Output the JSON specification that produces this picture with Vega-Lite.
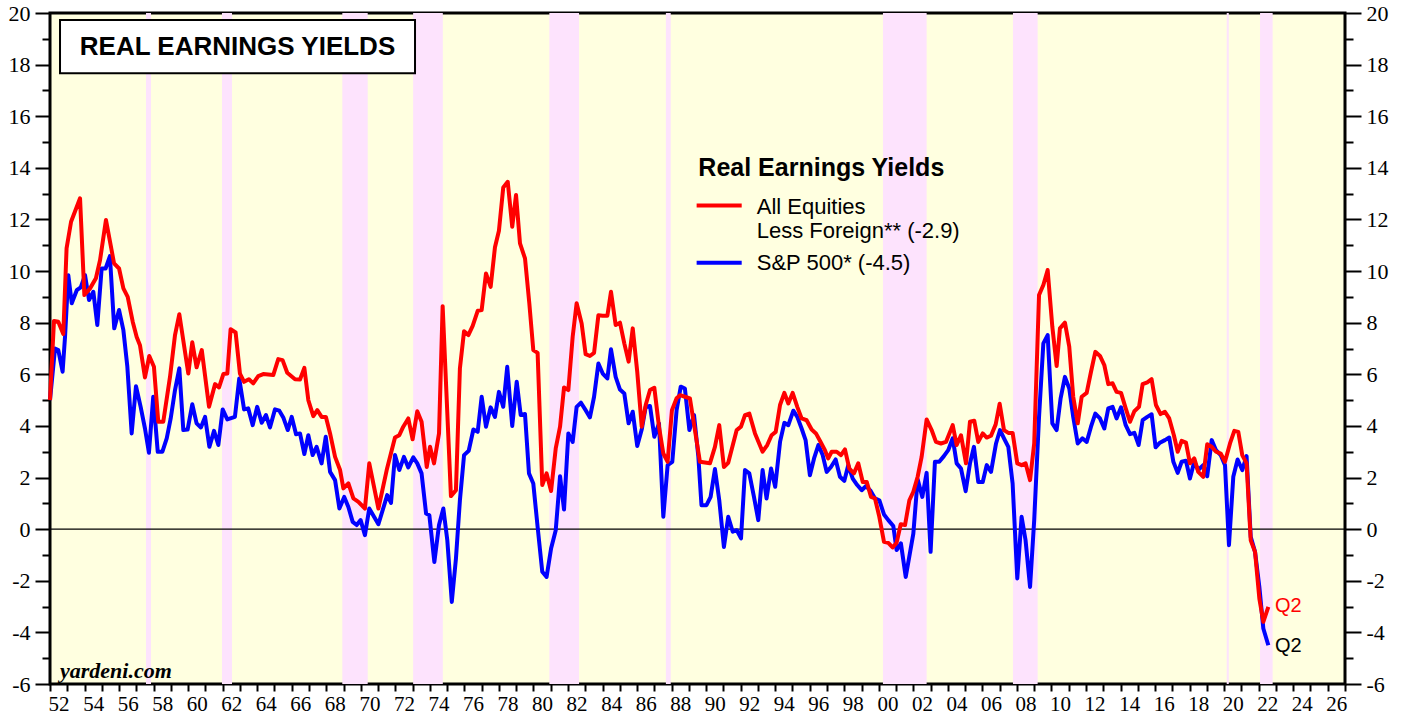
{
  "$schema": "https://vega.github.io/schema/vega-lite/v6.json",
  "width": 1295,
  "height": 671,
  "autosize": "none",
  "padding": {"left": 50, "top": 13, "right": 60, "bottom": 33},
  "background": "white",
  "config": {"view": {"fill": "#ffffe0", "stroke": "black", "strokeWidth": 3}},
  "datasets": {
    "recessions": [
      {"x": 1957.56, "x2": 1957.85}, {"x": 1961.96, "x2": 1962.54}, {"x": 1968.93, "x2": 1970.4},
      {"x": 1973.03, "x2": 1974.75}, {"x": 1980.92, "x2": 1982.64}, {"x": 1987.67, "x2": 1987.95},
      {"x": 2000.24, "x2": 2002.77}, {"x": 2007.77, "x2": 2009.2}, {"x": 2020.15, "x2": 2020.27},
      {"x": 2022.08, "x2": 2022.81}
    ],
    "sp500": [
      {"x":1952.0,"y":5.0},{"x":1952.29,"y":7.0},{"x":1952.48,"y":6.94},{"x":1952.73,"y":6.10},{"x":1952.87,"y":7.45},
      {"x":1953.06,"y":9.84},{"x":1953.26,"y":8.75},{"x":1953.55,"y":9.26},{"x":1953.78,"y":9.37},{"x":1954.03,"y":9.84},
      {"x":1954.26,"y":8.88},{"x":1954.51,"y":9.20},{"x":1954.74,"y":7.91},{"x":1954.99,"y":10.10},{"x":1955.22,"y":10.10},
      {"x":1955.47,"y":10.58},{"x":1955.72,"y":7.78},{"x":1956.0,"y":8.49},{"x":1956.25,"y":7.71},{"x":1956.48,"y":6.29},
      {"x":1956.73,"y":3.71},{"x":1956.98,"y":5.54},{"x":1957.25,"y":4.74},{"x":1957.50,"y":3.90},{"x":1957.73,"y":2.96},
      {"x":1957.98,"y":5.13},{"x":1958.24,"y":3.0},{"x":1958.51,"y":3.0},{"x":1958.76,"y":3.52},{"x":1958.99,"y":4.29},
      {"x":1959.24,"y":5.39},{"x":1959.49,"y":6.23},{"x":1959.72,"y":3.84},{"x":1959.97,"y":3.86},{"x":1960.24,"y":4.84},
      {"x":1960.49,"y":4.10},{"x":1960.74,"y":3.94},{"x":1960.98,"y":4.35},{"x":1961.23,"y":3.19},{"x":1961.50,"y":3.81},
      {"x":1961.75,"y":3.26},{"x":1962.0,"y":4.64},{"x":1962.27,"y":4.25},{"x":1962.71,"y":4.35},{"x":1962.96,"y":5.84},
      {"x":1963.24,"y":4.64},{"x":1963.48,"y":4.68},{"x":1963.74,"y":4.03},{"x":1964.0,"y":4.74},{"x":1964.26,"y":4.12},
      {"x":1964.51,"y":4.42},{"x":1964.74,"y":3.94},{"x":1965.03,"y":4.64},{"x":1965.28,"y":4.59},{"x":1965.51,"y":4.33},
      {"x":1965.77,"y":3.84},{"x":1966.0,"y":4.35},{"x":1966.25,"y":3.68},{"x":1966.48,"y":3.71},{"x":1966.73,"y":2.91},
      {"x":1966.96,"y":3.64},{"x":1967.21,"y":2.87},{"x":1967.44,"y":3.19},{"x":1967.73,"y":2.55},{"x":1967.97,"y":3.58},
      {"x":1968.22,"y":2.22},{"x":1968.51,"y":1.90},{"x":1968.76,"y":0.80},{"x":1969.04,"y":1.25},{"x":1969.28,"y":0.86},
      {"x":1969.53,"y":0.28},{"x":1969.76,"y":0.16},{"x":1969.99,"y":0.35},{"x":1970.24,"y":-0.23},{"x":1970.49,"y":0.80},
      {"x":1971.02,"y":0.19},{"x":1971.53,"y":1.32},{"x":1971.75,"y":1.02},{"x":1971.98,"y":2.87},{"x":1972.23,"y":2.29},
      {"x":1972.50,"y":2.80},{"x":1972.75,"y":2.39},{"x":1973.04,"y":2.78},{"x":1973.27,"y":2.55},{"x":1973.52,"y":2.16},
      {"x":1973.78,"y":0.61},{"x":1973.97,"y":0.54},{"x":1974.26,"y":-1.27},{"x":1974.53,"y":0.16},{"x":1974.78,"y":0.80},
      {"x":1975.01,"y":-0.43},{"x":1975.27,"y":-2.82},{"x":1975.51,"y":-1.14},{"x":1975.74,"y":1.12},{"x":1975.98,"y":2.87},
      {"x":1976.25,"y":3.04},{"x":1976.52,"y":3.86},{"x":1976.77,"y":3.77},{"x":1977.0,"y":5.13},{"x":1977.25,"y":3.97},
      {"x":1977.52,"y":4.72},{"x":1977.77,"y":4.35},{"x":1978.0,"y":5.32},{"x":1978.25,"y":4.74},{"x":1978.48,"y":6.29},
      {"x":1978.77,"y":4.0},{"x":1979.03,"y":5.71},{"x":1979.26,"y":4.42},{"x":1979.51,"y":4.46},{"x":1979.74,"y":2.16},
      {"x":1979.99,"y":1.77},{"x":1980.24,"y":0.09},{"x":1980.51,"y":-1.65},{"x":1980.76,"y":-1.85},{"x":1981.02,"y":-0.75},
      {"x":1981.29,"y":-0.04},{"x":1981.54,"y":2.05},{"x":1981.77,"y":0.76},{"x":1982.02,"y":3.71},{"x":1982.27,"y":3.38},
      {"x":1982.50,"y":4.74},{"x":1982.75,"y":4.90},{"x":1983.02,"y":4.61},{"x":1983.27,"y":4.33},{"x":1983.51,"y":5.13},
      {"x":1983.76,"y":6.42},{"x":1984.01,"y":6.03},{"x":1984.28,"y":5.84},{"x":1984.49,"y":6.97},{"x":1984.76,"y":5.90},
      {"x":1985.01,"y":5.41},{"x":1985.26,"y":5.26},{"x":1985.51,"y":4.10},{"x":1985.75,"y":4.55},{"x":1986.01,"y":3.22},
      {"x":1986.27,"y":3.86},{"x":1986.50,"y":4.74},{"x":1986.75,"y":4.77},{"x":1987.0,"y":3.58},{"x":1987.27,"y":4.10},
      {"x":1987.52,"y":0.48},{"x":1987.77,"y":2.48},{"x":1988.04,"y":2.61},{"x":1988.29,"y":4.61},{"x":1988.53,"y":5.52},
      {"x":1988.77,"y":5.45},{"x":1989.03,"y":3.84},{"x":1989.30,"y":4.42},{"x":1989.55,"y":2.80},{"x":1989.73,"y":0.93},
      {"x":1990.02,"y":0.93},{"x":1990.26,"y":1.25},{"x":1990.51,"y":2.33},{"x":1990.76,"y":1.12},{"x":1991.03,"y":-0.69},
      {"x":1991.28,"y":0.48},{"x":1991.54,"y":-0.10},{"x":1991.77,"y":-0.04},{"x":1992.02,"y":-0.36},{"x":1992.25,"y":2.29},
      {"x":1992.50,"y":2.16},{"x":1992.77,"y":1.25},{"x":1993.02,"y":0.35},{"x":1993.27,"y":2.29},{"x":1993.50,"y":1.19},
      {"x":1993.76,"y":2.35},{"x":1994.0,"y":1.64},{"x":1994.28,"y":3.38},{"x":1994.53,"y":4.12},{"x":1994.76,"y":4.03},
      {"x":1995.05,"y":4.59},{"x":1995.28,"y":4.35},{"x":1995.53,"y":3.90},{"x":1995.76,"y":3.45},{"x":1996.01,"y":2.09},
      {"x":1996.25,"y":2.74},{"x":1996.50,"y":3.26},{"x":1996.75,"y":2.87},{"x":1996.98,"y":2.22},{"x":1997.23,"y":2.41},
      {"x":1997.50,"y":2.70},{"x":1997.75,"y":2.03},{"x":1998.0,"y":1.87},{"x":1998.23,"y":2.48},{"x":1998.49,"y":1.96},
      {"x":1998.75,"y":1.71},{"x":1999.01,"y":1.51},{"x":1999.26,"y":1.67},{"x":1999.53,"y":1.48},{"x":1999.78,"y":1.19},
      {"x":2000.03,"y":1.12},{"x":2000.30,"y":0.57},{"x":2000.55,"y":0.35},{"x":2000.84,"y":0.12},{"x":2001.03,"y":-0.81},
      {"x":2001.28,"y":-0.55},{"x":2001.56,"y":-1.85},{"x":2002.0,"y":-0.17},{"x":2002.25,"y":1.93},{"x":2002.52,"y":1.25},
      {"x":2002.77,"y":2.18},{"x":2003.0,"y":-0.88},{"x":2003.25,"y":2.61},{"x":2003.50,"y":2.61},{"x":2003.77,"y":2.83},
      {"x":2004.02,"y":3.06},{"x":2004.28,"y":3.52},{"x":2004.51,"y":2.55},{"x":2004.76,"y":2.35},{"x":2005.03,"y":1.47},
      {"x":2005.28,"y":2.55},{"x":2005.51,"y":3.19},{"x":2005.76,"y":1.83},{"x":2006.02,"y":1.83},{"x":2006.25,"y":2.48},
      {"x":2006.50,"y":2.22},{"x":2006.79,"y":3.32},{"x":2007.02,"y":3.84},{"x":2007.25,"y":3.52},{"x":2007.50,"y":3.19},
      {"x":2007.75,"y":1.77},{"x":2008.02,"y":-1.91},{"x":2008.27,"y":0.48},{"x":2008.50,"y":-0.43},{"x":2008.76,"y":-2.24},
      {"x":2009.0,"y":0.35},{"x":2009.28,"y":4.35},{"x":2009.53,"y":7.20},{"x":2009.78,"y":7.52},{"x":2010.05,"y":4.10},
      {"x":2010.30,"y":3.84},{"x":2010.53,"y":5.07},{"x":2010.78,"y":5.90},{"x":2011.03,"y":5.45},{"x":2011.26,"y":4.35},
      {"x":2011.52,"y":3.32},{"x":2011.79,"y":3.52},{"x":2012.04,"y":3.38},{"x":2012.29,"y":3.97},{"x":2012.54,"y":4.48},
      {"x":2012.81,"y":4.29},{"x":2013.06,"y":3.90},{"x":2013.29,"y":4.68},{"x":2013.54,"y":4.74},{"x":2013.77,"y":4.29},
      {"x":2014.03,"y":4.72},{"x":2014.30,"y":4.03},{"x":2014.55,"y":3.68},{"x":2014.80,"y":3.73},{"x":2015.05,"y":3.26},
      {"x":2015.28,"y":4.22},{"x":2015.55,"y":4.35},{"x":2015.80,"y":4.45},{"x":2016.03,"y":3.17},{"x":2016.28,"y":3.35},
      {"x":2016.57,"y":3.45},{"x":2016.82,"y":3.55},{"x":2017.06,"y":2.61},{"x":2017.31,"y":2.18},{"x":2017.54,"y":2.61},
      {"x":2017.79,"y":2.65},{"x":2018.02,"y":1.96},{"x":2018.27,"y":2.61},{"x":2018.50,"y":2.29},{"x":2018.79,"y":2.48},
      {"x":2019.02,"y":2.05},{"x":2019.28,"y":3.45},{"x":2019.53,"y":3.06},{"x":2019.80,"y":2.87},{"x":2020.05,"y":2.48},
      {"x":2020.28,"y":-0.62},{"x":2020.53,"y":2.03},{"x":2020.78,"y":2.70},{"x":2021.05,"y":2.29},{"x":2021.30,"y":2.83},
      {"x":2021.54,"y":-0.30},{"x":2021.79,"y":-0.88},{"x":2022.04,"y":-2.24},{"x":2022.27,"y":-3.85},{"x":2022.56,"y":-4.50}
    ],
    "allEq": [
      {"x":1952.0,"y":5.0},{"x":1952.23,"y":8.07},{"x":1952.48,"y":8.04},{"x":1952.77,"y":7.56},{"x":1952.96,"y":10.88},
      {"x":1953.22,"y":11.91},{"x":1953.74,"y":12.82},{"x":1953.99,"y":9.07},{"x":1954.32,"y":9.33},{"x":1954.66,"y":9.72},
      {"x":1954.90,"y":10.43},{"x":1955.24,"y":11.98},{"x":1955.71,"y":10.30},{"x":1956.0,"y":10.10},{"x":1956.25,"y":9.33},
      {"x":1956.50,"y":9.0},{"x":1956.79,"y":8.04},{"x":1957.02,"y":7.45},{"x":1957.21,"y":7.13},{"x":1957.50,"y":5.88},
      {"x":1957.75,"y":6.71},{"x":1958.02,"y":6.29},{"x":1958.27,"y":4.16},{"x":1958.56,"y":4.16},{"x":1958.95,"y":5.90},
      {"x":1959.24,"y":7.52},{"x":1959.49,"y":8.33},{"x":1960.01,"y":6.03},{"x":1960.24,"y":7.24},{"x":1960.49,"y":6.27},
      {"x":1960.79,"y":6.94},{"x":1961.21,"y":4.74},{"x":1961.56,"y":5.62},{"x":1961.79,"y":5.49},{"x":1962.04,"y":6.01},
      {"x":1962.27,"y":6.03},{"x":1962.46,"y":7.75},{"x":1962.75,"y":7.62},{"x":1963.0,"y":6.03},{"x":1963.24,"y":5.71},
      {"x":1963.52,"y":5.81},{"x":1963.77,"y":5.65},{"x":1964.06,"y":5.93},{"x":1964.35,"y":6.01},{"x":1964.93,"y":5.97},
      {"x":1965.22,"y":6.59},{"x":1965.47,"y":6.55},{"x":1965.74,"y":6.06},{"x":1966.19,"y":5.81},{"x":1966.48,"y":5.80},
      {"x":1966.73,"y":6.25},{"x":1966.96,"y":5.0},{"x":1967.25,"y":4.38},{"x":1967.48,"y":4.61},{"x":1967.73,"y":4.35},
      {"x":1967.98,"y":4.35},{"x":1968.22,"y":3.71},{"x":1968.51,"y":2.80},{"x":1968.8,"y":2.29},{"x":1968.99,"y":1.58},
      {"x":1969.28,"y":1.77},{"x":1969.57,"y":1.19},{"x":1969.86,"y":1.06},{"x":1970.24,"y":0.80},{"x":1970.49,"y":2.55},
      {"x":1971.02,"y":0.80},{"x":1971.50,"y":2.29},{"x":1971.98,"y":3.55},{"x":1972.23,"y":3.64},{"x":1972.46,"y":3.97},
      {"x":1972.75,"y":4.29},{"x":1973.0,"y":3.48},{"x":1973.27,"y":4.57},{"x":1973.52,"y":4.16},{"x":1973.82,"y":2.41},
      {"x":1974.01,"y":3.19},{"x":1974.24,"y":2.55},{"x":1974.53,"y":3.71},{"x":1974.74,"y":8.64},{"x":1975.22,"y":1.28},
      {"x":1975.51,"y":1.51},{"x":1975.74,"y":6.23},{"x":1975.98,"y":7.67},{"x":1976.23,"y":7.52},{"x":1976.48,"y":7.88},
      {"x":1976.77,"y":8.46},{"x":1977.0,"y":8.49},{"x":1977.25,"y":9.91},{"x":1977.52,"y":9.39},{"x":1977.77,"y":10.92},
      {"x":1978.0,"y":11.56},{"x":1978.25,"y":13.24},{"x":1978.51,"y":13.46},{"x":1978.77,"y":11.72},{"x":1978.99,"y":12.95},
      {"x":1979.22,"y":11.07},{"x":1979.51,"y":10.49},{"x":1979.76,"y":8.75},{"x":1979.99,"y":6.94},{"x":1980.24,"y":6.83},
      {"x":1980.51,"y":1.71},{"x":1980.76,"y":2.16},{"x":1981.02,"y":1.48},{"x":1981.29,"y":3.13},{"x":1981.54,"y":3.97},
      {"x":1981.77,"y":5.49},{"x":1982.02,"y":5.39},{"x":1982.27,"y":7.45},{"x":1982.50,"y":8.75},{"x":1982.79,"y":7.97},
      {"x":1983.02,"y":6.78},{"x":1983.27,"y":6.71},{"x":1983.51,"y":6.83},{"x":1983.76,"y":8.29},{"x":1984.01,"y":8.27},
      {"x":1984.28,"y":8.27},{"x":1984.49,"y":9.20},{"x":1984.76,"y":7.91},{"x":1985.01,"y":8.0},{"x":1985.26,"y":7.20},
      {"x":1985.51,"y":6.49},{"x":1985.75,"y":7.78},{"x":1986.01,"y":6.10},{"x":1986.27,"y":3.97},{"x":1986.50,"y":4.81},
      {"x":1986.75,"y":5.39},{"x":1987.0,"y":5.48},{"x":1987.27,"y":3.97},{"x":1987.52,"y":2.93},{"x":1987.77,"y":2.61},
      {"x":1988.02,"y":4.61},{"x":1988.29,"y":5.07},{"x":1988.49,"y":5.19},{"x":1988.77,"y":5.13},{"x":1989.06,"y":5.07},
      {"x":1989.35,"y":3.84},{"x":1989.64,"y":2.61},{"x":1990.22,"y":2.55},{"x":1990.51,"y":3.19},{"x":1990.76,"y":4.03},
      {"x":1991.03,"y":2.41},{"x":1991.28,"y":2.57},{"x":1991.77,"y":3.84},{"x":1992.02,"y":3.97},{"x":1992.25,"y":4.42},
      {"x":1992.50,"y":4.48},{"x":1992.83,"y":3.71},{"x":1993.27,"y":3.0},{"x":1993.54,"y":3.26},{"x":1993.79,"y":3.64},
      {"x":1994.03,"y":3.77},{"x":1994.28,"y":4.81},{"x":1994.53,"y":5.28},{"x":1994.76,"y":4.87},{"x":1995.01,"y":5.28},
      {"x":1995.28,"y":4.74},{"x":1995.53,"y":4.29},{"x":1995.82,"y":4.22},{"x":1996.11,"y":3.86},{"x":1996.36,"y":3.71},
      {"x":1996.63,"y":3.38},{"x":1996.88,"y":3.06},{"x":1997.07,"y":2.74},{"x":1997.27,"y":3.0},{"x":1997.56,"y":3.0},
      {"x":1997.81,"y":2.87},{"x":1998.04,"y":3.09},{"x":1998.29,"y":2.35},{"x":1998.56,"y":2.16},{"x":1998.81,"y":2.55},
      {"x":1999.07,"y":1.83},{"x":1999.30,"y":1.83},{"x":1999.55,"y":1.25},{"x":1999.78,"y":1.19},{"x":2000.03,"y":0.48},
      {"x":2000.30,"y":-0.49},{"x":2000.55,"y":-0.53},{"x":2000.80,"y":-0.71},{"x":2001.03,"y":-0.53},{"x":2001.27,"y":0.19},
      {"x":2001.52,"y":0.16},{"x":2001.77,"y":1.12},{"x":2002.0,"y":1.45},{"x":2002.25,"y":2.03},{"x":2002.48,"y":2.80},
      {"x":2002.77,"y":4.25},{"x":2003.06,"y":3.84},{"x":2003.31,"y":3.38},{"x":2003.60,"y":3.32},{"x":2003.89,"y":3.38},
      {"x":2004.28,"y":4.03},{"x":2004.51,"y":3.26},{"x":2004.76,"y":3.64},{"x":2005.05,"y":2.55},{"x":2005.28,"y":4.16},
      {"x":2005.53,"y":4.20},{"x":2005.76,"y":3.38},{"x":2006.02,"y":3.71},{"x":2006.25,"y":3.55},{"x":2006.50,"y":3.62},
      {"x":2006.77,"y":4.06},{"x":2007.0,"y":4.86},{"x":2007.25,"y":3.84},{"x":2007.50,"y":3.73},{"x":2007.75,"y":3.73},
      {"x":2008.02,"y":2.55},{"x":2008.27,"y":2.48},{"x":2008.50,"y":2.55},{"x":2008.76,"y":1.90},{"x":2009.0,"y":3.32},
      {"x":2009.28,"y":9.07},{"x":2009.53,"y":9.46},{"x":2009.78,"y":10.04},{"x":2010.05,"y":7.84},{"x":2010.30,"y":6.32},
      {"x":2010.49,"y":7.78},{"x":2010.78,"y":8.0},{"x":2011.03,"y":7.07},{"x":2011.26,"y":5.13},{"x":2011.52,"y":4.10},
      {"x":2011.75,"y":5.13},{"x":2012.04,"y":5.28},{"x":2012.29,"y":6.10},{"x":2012.54,"y":6.87},{"x":2012.81,"y":6.71},
      {"x":2013.06,"y":6.36},{"x":2013.29,"y":5.62},{"x":2013.54,"y":5.65},{"x":2013.77,"y":5.32},{"x":2014.03,"y":5.28},
      {"x":2014.30,"y":4.68},{"x":2014.55,"y":4.16},{"x":2014.80,"y":4.57},{"x":2015.07,"y":4.74},{"x":2015.28,"y":5.62},
      {"x":2015.55,"y":5.69},{"x":2015.80,"y":5.81},{"x":2016.05,"y":4.81},{"x":2016.32,"y":4.46},{"x":2016.57,"y":4.55},
      {"x":2016.82,"y":4.29},{"x":2017.09,"y":3.64},{"x":2017.31,"y":3.0},{"x":2017.54,"y":3.42},{"x":2017.79,"y":3.35},
      {"x":2018.02,"y":2.55},{"x":2018.27,"y":2.74},{"x":2018.50,"y":2.22},{"x":2018.79,"y":2.03},{"x":2019.02,"y":3.29},
      {"x":2019.28,"y":3.19},{"x":2019.53,"y":3.0},{"x":2019.80,"y":2.93},{"x":2020.05,"y":2.61},{"x":2020.34,"y":3.32},
      {"x":2020.59,"y":3.81},{"x":2020.82,"y":3.77},{"x":2021.05,"y":2.87},{"x":2021.30,"y":2.55},{"x":2021.54,"y":-0.43},
      {"x":2021.79,"y":-0.88},{"x":2022.04,"y":-2.69},{"x":2022.27,"y":-3.59},{"x":2022.56,"y":-3.01}
    ]
  },
  "encoding": {
    "x": {
      "field": "x", "type": "quantitative",
      "scale": {"domain": [1952, 2027], "nice": false, "zero": false},
      "axis": {
        "values": [1952,1953,1954,1955,1956,1957,1958,1959,1960,1961,1962,1963,1964,1965,1966,1967,1968,1969,1970,1971,1972,1973,1974,1975,1976,1977,1978,1979,1980,1981,1982,1983,1984,1985,1986,1987,1988,1989,1990,1991,1992,1993,1994,1995,1996,1997,1998,1999,2000,2001,2002,2003,2004,2005,2006,2007,2008,2009,2010,2011,2012,2013,2014,2015,2016,2017,2018,2019,2020,2021,2022,2023,2024,2025,2026,2027],
        "labelExpr": "datum.value % 2 == 0 && datum.value < 2027 ? substring(toString(datum.value), 2, 4) : ''",
        "labelOffset": 8.6,
        "labelFlush": false,
        "labelOverlap": false,
        "labelBound": false,
        "labelFont": "Liberation Serif",
        "labelFontSize": 21,
        "labelColor": "black",
        "labelPadding": 2,
        "tickSize": 7,
        "tickWidth": 2,
        "tickColor": "black",
        "domain": false,
        "grid": false,
        "title": null
      }
    }
  },
  "resolve": {"axis": {"y": "independent"}},
  "layer": [
    {
      "data": {"name": "recessions"},
      "mark": {"type": "rect", "fill": "#fde3fd"},
      "encoding": {"x2": {"field": "x2"}}
    },
    {
      "data": {"values": [{"x": 1952, "x2": 2027}]},
      "mark": {"type": "rule", "color": "black", "strokeWidth": 1.2},
      "encoding": {
        "x2": {"field": "x2"},
        "y": {"datum": 0, "type": "quantitative", "scale": {"domain": [-6, 20], "nice": false, "zero": false}, "axis": null}
      }
    },
    {
      "data": {"name": "sp500"},
      "mark": {"type": "line", "color": "#0000ff", "strokeWidth": 4, "strokeJoin": "round"},
      "encoding": {
        "y": {
          "field": "y", "type": "quantitative",
          "scale": {"domain": [-6, 20], "nice": false, "zero": false},
          "axis": {
            "orient": "left",
            "values": [-6,-5,-4,-3,-2,-1,0,1,2,3,4,5,6,7,8,9,10,11,12,13,14,15,16,17,18,19,20],
            "labelExpr": "datum.value % 2 == 0 ? toString(datum.value) : ''",
            "tickSize": {"condition": {"test": "datum.value % 2 == 0", "value": 15}, "value": 8},
            "tickWidth": 2,
            "tickColor": "black",
            "labelFont": "Liberation Serif",
            "labelFontSize": 22,
            "labelColor": "black",
            "labelPadding": 5,
            "labelOverlap": false,
            "labelFlush": false,
            "labelBound": false,
            "domain": false,
            "grid": false,
            "title": null
          }
        }
      }
    },
    {
      "data": {"name": "allEq"},
      "mark": {"type": "line", "color": "#ff0000", "strokeWidth": 4, "strokeJoin": "round"},
      "encoding": {
        "y": {
          "field": "y", "type": "quantitative",
          "scale": {"domain": [-6, 20], "nice": false, "zero": false},
          "axis": {
            "orient": "right",
            "values": [-6,-5,-4,-3,-2,-1,0,1,2,3,4,5,6,7,8,9,10,11,12,13,14,15,16,17,18,19,20],
            "labelExpr": "datum.value % 2 == 0 ? toString(datum.value) : ''",
            "tickSize": {"condition": {"test": "datum.value % 2 == 0", "value": 16}, "value": 8},
            "tickWidth": 2,
            "tickColor": "black",
            "labelFont": "Liberation Serif",
            "labelFontSize": 22,
            "labelColor": "black",
            "labelPadding": 5,
            "labelOverlap": false,
            "labelFlush": false,
            "labelBound": false,
            "domain": false,
            "grid": false,
            "title": null
          }
        }
      }
    },
    {
      "data": {"values": [{"x": 1952.58, "x2": 1973.14, "y": 19.73, "y2": 17.67}]},
      "mark": {"type": "rect", "fill": "white", "stroke": "black", "strokeWidth": 2},
      "encoding": {
        "x2": {"field": "x2"},
        "y": {"field": "y", "type": "quantitative", "scale": {"domain": [-6, 20], "nice": false, "zero": false}, "axis": null},
        "y2": {"field": "y2"}
      }
    },
    {
      "data": {"values": [{"x": 1962.86, "y": 18.70, "t": "REAL EARNINGS YIELDS"}]},
      "mark": {"type": "text", "font": "Liberation Sans", "fontWeight": "bold", "fontSize": 26, "align": "center", "baseline": "middle", "color": "black"},
      "encoding": {
        "y": {"field": "y", "type": "quantitative", "scale": {"domain": [-6, 20], "nice": false, "zero": false}, "axis": null},
        "text": {"field": "t"}
      }
    },
    {
      "data": {"values": [{"x": 1989.55, "y": 13.98, "t": "Real Earnings Yields"}]},
      "mark": {"type": "text", "font": "Liberation Sans", "fontWeight": "bold", "fontSize": 25, "align": "left", "baseline": "middle", "color": "black"},
      "encoding": {
        "y": {"field": "y", "type": "quantitative", "scale": {"domain": [-6, 20], "nice": false, "zero": false}, "axis": null},
        "text": {"field": "t"}
      }
    },
    {
      "data": {"values": [
        {"x": 1992.93, "y": 12.49, "t": "All Equities"},
        {"x": 1992.93, "y": 11.57, "t": "Less Foreign** (-2.9)"},
        {"x": 1992.93, "y": 10.32, "t": "S&P 500* (-4.5)"}
      ]},
      "mark": {"type": "text", "font": "Liberation Sans", "fontSize": 22, "align": "left", "baseline": "middle", "color": "black"},
      "encoding": {
        "y": {"field": "y", "type": "quantitative", "scale": {"domain": [-6, 20], "nice": false, "zero": false}, "axis": null},
        "text": {"field": "t"}
      }
    },
    {
      "data": {"values": [{"x": 1989.45, "x2": 1992.06, "y": 12.54}]},
      "mark": {"type": "rule", "color": "#ff0000", "strokeWidth": 4},
      "encoding": {
        "x2": {"field": "x2"},
        "y": {"field": "y", "type": "quantitative", "scale": {"domain": [-6, 20], "nice": false, "zero": false}, "axis": null}
      }
    },
    {
      "data": {"values": [{"x": 1989.45, "x2": 1992.06, "y": 10.32}]},
      "mark": {"type": "rule", "color": "#0000ff", "strokeWidth": 4},
      "encoding": {
        "x2": {"field": "x2"},
        "y": {"field": "y", "type": "quantitative", "scale": {"domain": [-6, 20], "nice": false, "zero": false}, "axis": null}
      }
    },
    {
      "data": {"values": [{"x": 1952.58, "y": -5.5, "t": "yardeni.com"}]},
      "mark": {"type": "text", "font": "Liberation Serif", "fontWeight": "bold", "fontStyle": "italic", "fontSize": 22, "align": "left", "baseline": "middle", "color": "black"},
      "encoding": {
        "y": {"field": "y", "type": "quantitative", "scale": {"domain": [-6, 20], "nice": false, "zero": false}, "axis": null},
        "text": {"field": "t"}
      }
    },
    {
      "data": {"values": [{"x": 2022.94, "y": -2.98, "t": "Q2"}]},
      "mark": {"type": "text", "font": "Liberation Sans", "fontSize": 20, "align": "left", "baseline": "middle", "color": "#ff0000"},
      "encoding": {
        "y": {"field": "y", "type": "quantitative", "scale": {"domain": [-6, 20], "nice": false, "zero": false}, "axis": null},
        "text": {"field": "t"}
      }
    },
    {
      "data": {"values": [{"x": 2022.94, "y": -4.53, "t": "Q2"}]},
      "mark": {"type": "text", "font": "Liberation Sans", "fontSize": 20, "align": "left", "baseline": "middle", "color": "black"},
      "encoding": {
        "y": {"field": "y", "type": "quantitative", "scale": {"domain": [-6, 20], "nice": false, "zero": false}, "axis": null},
        "text": {"field": "t"}
      }
    }
  ]
}
